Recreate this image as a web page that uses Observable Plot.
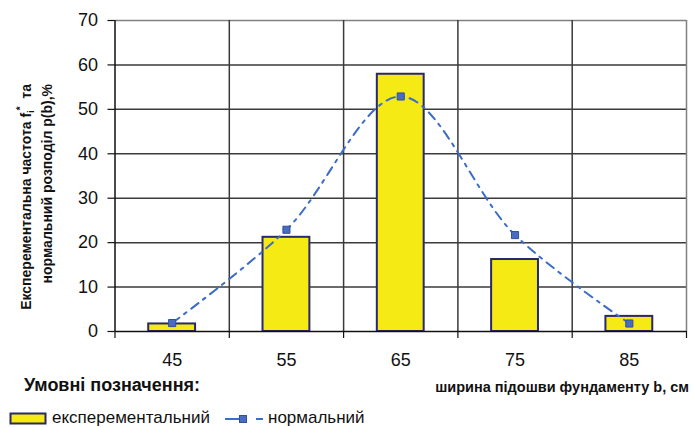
<!DOCTYPE html>
<html>
<head>
<meta charset="utf-8">
<script src="https://cdn.jsdelivr.net/npm/d3@7"></script>
<script src="https://cdn.jsdelivr.net/npm/@observablehq/plot@0.6"></script>
<style>
  body { margin: 0; background: #fff; }
  #wrap { position: relative; width: 692px; height: 427px; font-family: "Liberation Sans", Arial, sans-serif; color: #111; }
  .abs { position: absolute; white-space: nowrap; }
</style>
</head>
<body>
<div id="wrap"></div>
<script>
// Data
const widths = [45, 55, 65, 75, 85];              // ширина підошви фундаменту b, см
const experimental = [1.7, 21.2, 57.9, 16.2, 3.4]; // експерементальний, %
const normal = [1.9, 22.9, 52.9, 21.7, 1.8];       // нормальний, %
const yTicks = [0, 10, 20, 30, 40, 50, 60, 70];
const binWidth = 10;

const boundaries = [...widths.map(w => w - binWidth / 2), widths[widths.length - 1] + binWidth / 2];
const innerBounds = boundaries.slice(1, -1);
const expData = widths.map((b, i) => ({b, f: experimental[i]}));
const normData = widths.map((b, i) => ({b, p: normal[i]}));

const FONT = '"Liberation Sans", Arial, sans-serif';
const halfBar = 2.05;

const plot = Plot.plot({
  width: 692,
  height: 370,
  marginLeft: 114.5,
  marginRight: 6,
  marginTop: 20,
  marginBottom: 39,
  style: {fontFamily: FONT, background: "#fff", color: "#111"},
  x: {type: "linear", domain: [boundaries[0], boundaries[boundaries.length - 1]]},
  y: {domain: [0, 70]},
  marks: [
    // horizontal grid
    Plot.ruleY(yTicks.slice(1, -1), {stroke: "#3a3a3a", strokeWidth: 1.5}),
    Plot.ruleY([70], {stroke: "#808080", strokeWidth: 1.5}),
    // vertical grid
    Plot.ruleX(innerBounds, {y1: 0, y2: 70, stroke: "#3a3a3a", strokeWidth: 1.5}),
    Plot.ruleX([boundaries[boundaries.length - 1]], {y1: 0, y2: 70, stroke: "#808080", strokeWidth: 1.5}),
    // bars
    Plot.rectY(expData, {x1: d => d.b - halfBar, x2: d => d.b + halfBar, y: "f", fill: "#f5ea14", stroke: "#28286a", strokeWidth: 2}),
    // axes lines
    Plot.ruleX([boundaries[0]], {y1: 0, y2: 70, stroke: "#111", strokeWidth: 1.5}),
    Plot.ruleY([0], {stroke: "#111", strokeWidth: 1.5}),
    Plot.axisY({ticks: yTicks, tickSize: 7, tickPadding: 10, fontSize: 18, stroke: "#111", strokeWidth: 1.2, label: null}),
    Plot.axisX({ticks: boundaries, tickSize: 7, tickFormat: () => "", stroke: "#111", strokeWidth: 1.2, label: null}),
    Plot.axisX({ticks: widths, tickSize: 0, tickPadding: 22, fontSize: 18, label: null}),
    // normal distribution line
    Plot.line(normData, {x: "b", y: "p", curve: "catmull-rom", stroke: "#3b6cc6", strokeWidth: 2, strokeDasharray: "9,6,3,6"}),
    Plot.dot(normData, {x: "b", y: "p", symbol: "square", r: 4, fill: "#4a6cc0", stroke: "#2f4f9f", strokeWidth: 1})
  ]
});

const wrap = document.getElementById("wrap");
plot.style.position = "absolute";
plot.style.left = "0px";
plot.style.top = "0px";
wrap.appendChild(plot);

// y-axis title (two rotated lines)
const svg = d3.select(plot);
const t1 = svg.append("text")
  .attr("transform", "translate(31,84) rotate(-90)")
  .attr("text-anchor", "end")
  .style("font", `bold 14px ${FONT}`)
  .attr("fill", "#111");
t1.append("tspan").text("Експерементальна частота f");
t1.append("tspan").attr("font-size", "9px").attr("dy", "3").text("i");
t1.append("tspan").attr("font-size", "10px").attr("dy", "-10").text("*");
t1.append("tspan").attr("dy", "7").text("  та");
svg.append("text")
  .attr("transform", "translate(52,84) rotate(-90)")
  .attr("text-anchor", "end")
  .style("font", `bold 14px ${FONT}`)
  .attr("fill", "#111")
  .text("нормальний розподіл p(b),%");

// Bottom texts
function addDiv(html, css) {
  const d = document.createElement("div");
  d.className = "abs";
  d.innerHTML = html;
  Object.assign(d.style, css);
  wrap.appendChild(d);
  return d;
}
addDiv("Умовні позначення:", {left: "24px", top: "373px", fontSize: "18px", fontWeight: "bold", lineHeight: "24px"});
addDiv("ширина підошви фундаменту b, см", {right: "3px", top: "377px", fontSize: "14.5px", fontWeight: "bold", lineHeight: "20px"});

// Legend
const leg = addDiv("", {left: "0px", top: "405px", width: "692px", height: "22px"});
leg.innerHTML = `
<svg width="692" height="22" style="position:absolute;left:0;top:0">
  <rect x="10.5" y="8.5" width="35" height="10" fill="#f5ea14" stroke="#28286a" stroke-width="2"></rect>
  <line x1="225" y1="14" x2="240" y2="14" stroke="#3b6cc6" stroke-width="2"></line>
  <rect x="239.5" y="10.5" width="7" height="7" fill="#4a6cc0" stroke="#2f4f9f" stroke-width="1"></rect>
  <line x1="256" y1="14" x2="263" y2="14" stroke="#3b6cc6" stroke-width="2"></line>
</svg>
<div class="abs" style="left:52px;top:2px;font-size:17px;line-height:22px">експерементальний</div>
<div class="abs" style="left:268px;top:2px;font-size:17px;line-height:22px">нормальний</div>`;
</script>
</body>
</html>
